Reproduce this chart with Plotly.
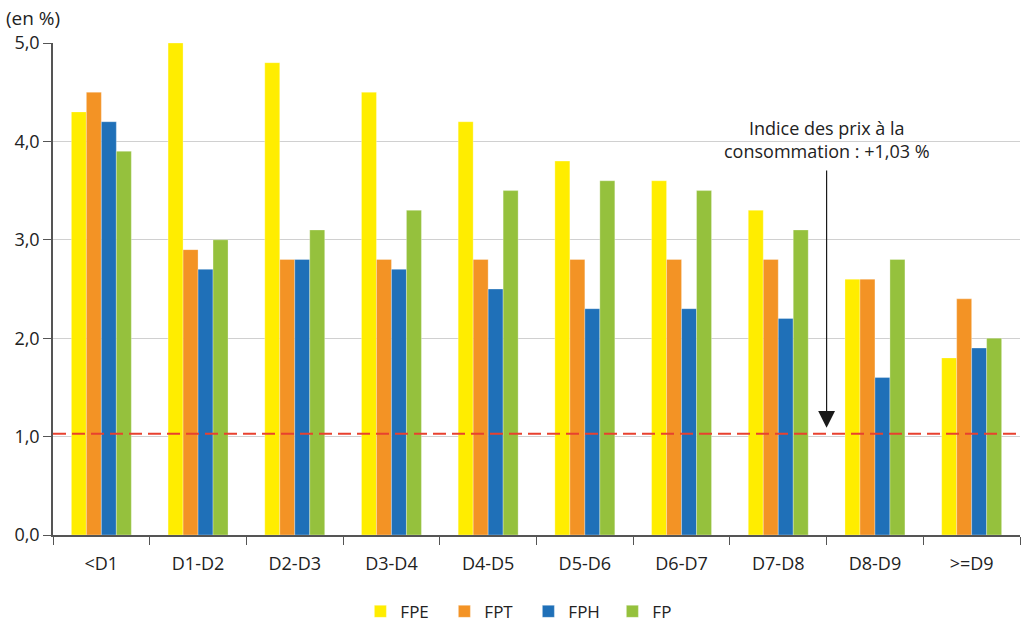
import plotly.graph_objects as go

categories = ["<D1", "D1-D2", "D2-D3", "D3-D4", "D4-D5", "D5-D6", "D6-D7", "D7-D8", "D8-D9", ">=D9"]
fpe = [4.3, 5.0, 4.8, 4.5, 4.2, 3.8, 3.6, 3.3, 2.6, 1.8]
fpt = [4.5, 2.9, 2.8, 2.8, 2.8, 2.8, 2.8, 2.8, 2.6, 2.4]
fph = [4.2, 2.7, 2.8, 2.7, 2.5, 2.3, 2.3, 2.2, 1.6, 1.9]
fp = [3.9, 3.0, 3.1, 3.3, 3.5, 3.6, 3.5, 3.1, 2.8, 2.0]
series_names = ["FPE", "FPT", "FPH", "FP"]
colors = ["#ffed00", "#f39325", "#1f70b8", "#95c13d"]
ipc = 1.03
y_ticks = [0, 1, 2, 3, 4, 5]

FONT = "Open Sans, Noto Sans, sans-serif"
TXT = "#222222"

fig = go.Figure()
for name, vals, col in zip(series_names, [fpe, fpt, fph, fp], colors):
    fig.add_trace(go.Bar(
        x=categories, y=vals, name=name,
        marker=dict(color=col, line=dict(color="rgba(255,255,255,0.6)", width=0.5)),
    ))

fig.add_shape(type="line", xref="paper", x0=0, x1=1, yref="y", y0=ipc, y1=ipc,
              line=dict(color="#e8412f", width=2, dash="13px,6px"), layer="above")

fig.add_annotation(
    x=7.5, y=1.09, xref="x", yref="y",
    ax=7.5, ay=3.72, axref="x", ayref="y",
    showarrow=True, arrowhead=2, arrowsize=2.8, arrowwidth=1.2, arrowcolor="#1a1a1a",
    text="",
)
fig.add_annotation(
    x=7.5, y=3.76, xref="x", yref="y", yanchor="bottom",
    text="Indice des prix à la<br>consommation : +1,03 %",
    showarrow=False, font=dict(family=FONT, size=18, color=TXT), align="center",
)
fig.add_annotation(
    x=0, y=1, xref="paper", yref="paper", xshift=-49, yshift=40,
    xanchor="left", yanchor="top", text="(en %)", showarrow=False,
    font=dict(family=FONT, size=19, color=TXT),
)

fig.update_layout(
    width=1022, height=623,
    margin=dict(l=53, r=2, t=43, b=88),
    paper_bgcolor="white", plot_bgcolor="white",
    barmode="group", bargap=0.38, bargroupgap=0,
    separators=", ",
    font=dict(family=FONT, size=18, color=TXT),
    showlegend=True,
    legend=dict(orientation="h", xref="container", yref="container",
                x=0.517, xanchor="center", y=0.018, yanchor="middle",
                font=dict(family=FONT, size=17, color=TXT), itemwidth=30,
                entrywidth=39, entrywidthmode="pixels",
                traceorder="normal"),
    xaxis=dict(
        type="category", tickson="boundaries", ticks="outside", ticklen=8,
        tickcolor="#555555", showline=True, linecolor="#555555", linewidth=1.5,
        showgrid=False, tickfont=dict(family=FONT, size=18), ticklabelstandoff=12,
        automargin=False,
    ),
    yaxis=dict(
        range=[0, 5], tickvals=y_ticks, tickformat=".1f", ticks="outside", ticklen=8,
        tickcolor="#555555", showline=True, linecolor="#555555", linewidth=1.5,
        showgrid=True, gridcolor="#d0d0d0", gridwidth=1, zeroline=False,
        tickfont=dict(family=FONT, size=18), automargin=False,
    ),
)

fig.write_html(
    "out.html",
    config={"displayModeBar": False},
    post_script="document.body.style.margin='0';document.body.style.overflow='hidden';",
)
